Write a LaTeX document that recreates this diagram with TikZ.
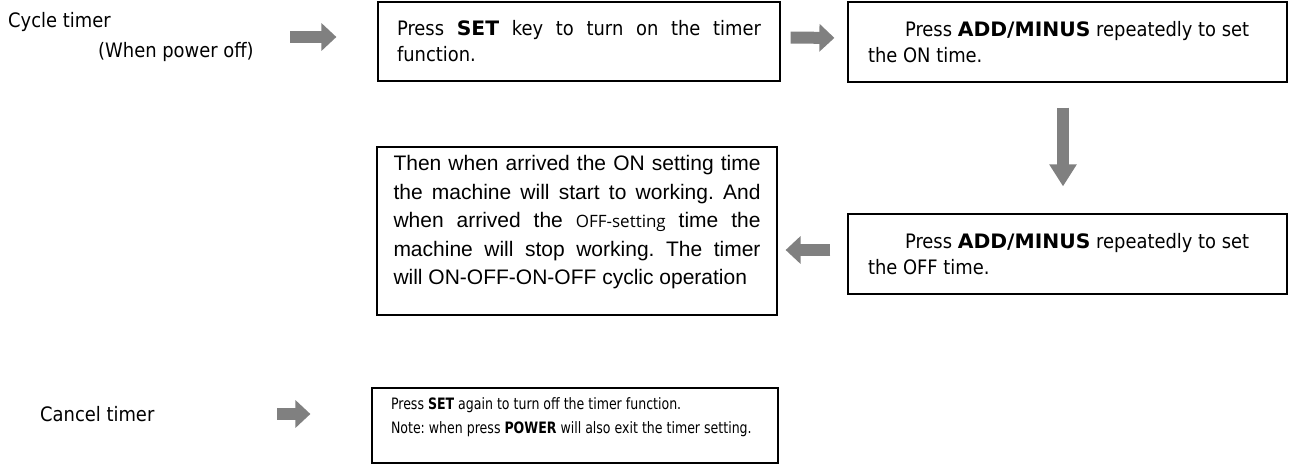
\documentclass[tikz,border=0pt]{standalone}
\usepackage{fontspec}
\setmainfont{Liberation Sans}
\newfontfamily\tahoma{DejaVu Sans}[FakeStretch=0.9,BoldFeatures={FakeStretch=1.02}]
\newfontfamily\narrow{DejaVu Sans}[FakeStretch=0.8]
\newfontfamily\smallsans{Open Sans}
\usetikzlibrary{arrows.meta,positioning}
\definecolor{Arrow}{HTML}{808080}
\newcommand{\fillline}[1]{\makebox[\hsize][s]{\spaceskip=\fontdimen2\font plus 1fil\relax #1}\\}
\frenchspacing

\begin{document}
\begin{tikzpicture}[x=1pt,y=-1pt,
    box/.style={draw,line width=1.2pt,inner ysep=0pt,align=flush left},
    tbox/.style={box,font=\tahoma\fontsize{19.9}{26}\selectfont},
    lbl/.style={inner sep=0pt,align=flush left,font=\tahoma\fontsize{19.9}{30}\selectfont},
    fat/.style={Arrow,line width=12pt,-{Triangle[length=15pt,width=27pt]}}
  ]
    \useasboundingbox (0,0) rectangle (1292,466);
    \node[lbl,anchor=west] (cycle) at (8,37) {Cycle timer\\\hspace*{90pt}(When power off)};
    \node[lbl,anchor=west] (cancel) at (40,414) {Cancel timer};
    \node[tbox,minimum width=402pt,minimum height=79pt,text width=364pt,inner xsep=19pt] (set) at (579,41.5)
      {\fillline{Press \textbf{SET} key to turn on the timer}function.};
    \node[tbox,minimum width=439pt,minimum height=80pt,text width=399pt,inner xsep=20pt] (ontime) at (1067.5,42)
      {\hspace*{37pt}Press \textbf{ADD/MINUS} repeatedly to set\\the ON time.};
    \node[tbox,minimum width=439pt,minimum height=80pt,text width=399pt,inner xsep=20pt] (offtime) at (1067.5,254)
      {\hspace*{37pt}Press \textbf{ADD/MINUS} repeatedly to set\\the OFF time.};
    \node[box,font=\fontsize{21}{28.5}\selectfont,minimum width=400pt,minimum height=168pt,text width=367pt,inner xsep=16.5pt] (cyclic) at (577,231)
      {\fillline{Then when arrived the ON setting time}%
       \fillline{the machine will start to working. And}%
       \fillline{when arrived the {\smallsans\fontsize{17}{28.5}\selectfont OFF-setting} time the}%
       \fillline{machine will stop working. The timer}%
       will ON-OFF-ON-OFF cyclic operation\rule[-22pt]{0pt}{22pt}};
    \node[box,font=\narrow\fontsize{15.7}{24}\selectfont,minimum width=406pt,minimum height=75pt,text width=380pt,inner xsep=13pt] (exit) at (575,425.5)
      {\hspace*{6pt}Press \textbf{SET} again to turn off the timer function.\\
       \hspace*{6pt}Note: when press \textbf{POWER} will also exit the timer setting.\rule[-20pt]{0pt}{20pt}};
    \coordinate (start) at (290,37);
    \coordinate (back) at ([yshift=4pt]offtime.west);
    \coordinate (stop) at (277,414);
    \draw[fat,shorten >=41pt] (start) -- (set.west |- start);
    \draw[fat,shorten <=10pt,shorten >=13pt] ([yshift=4pt]set.east) -- ([yshift=4pt]ontime.west);
    \draw[fat,-{Triangle[length=22pt,width=26pt]},shorten <=25pt,shorten >=27pt] ([xshift=-4.5pt]ontime.south) -- ([xshift=-4.5pt]offtime.north);
    \draw[fat,shorten <=17pt,shorten >=8pt] (back) -- (cyclic.east |- back);
    \draw[fat,shorten >=61pt] (stop) -- (exit.west |- stop);
  \end{tikzpicture}
\end{document}
